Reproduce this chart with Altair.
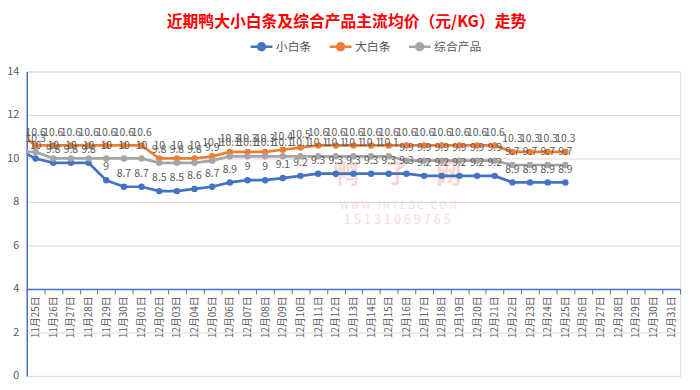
import json
import altair as alt
import pandas as pd

# ---------------- data ----------------
dates = [
    "11月25日", "11月26日", "11月27日", "11月28日", "11月29日", "11月30日",
    "12月01日", "12月02日", "12月03日", "12月04日", "12月05日", "12月06日",
    "12月07日", "12月08日", "12月09日", "12月10日", "12月11日", "12月12日",
    "12月13日", "12月14日", "12月15日", "12月16日", "12月17日", "12月18日",
    "12月19日", "12月20日", "12月21日", "12月22日", "12月23日", "12月24日",
    "12月25日", "12月26日", "12月27日", "12月28日", "12月29日", "12月30日",
    "12月31日",
]
series_names = ["小白条", "大白条", "综合产品"]
series_colors = ["#4472C4", "#ED7D31", "#A5A5A5"]

small_white = [10, 9.8, 9.8, 9.8, 9, 8.7, 8.7, 8.5, 8.5, 8.6, 8.7, 8.9, 9, 9,
               9.1, 9.2, 9.3, 9.3, 9.3, 9.3, 9.3, 9.3, 9.2, 9.2, 9.2, 9.2, 9.2,
               8.9, 8.9, 8.9, 8.9]
big_white = [10.6, 10.6, 10.6, 10.6, 10.6, 10.6, 10.6, 10, 10, 10, 10.1, 10.3,
             10.3, 10.3, 10.4, 10.5, 10.6, 10.6, 10.6, 10.6, 10.6, 10.6, 10.6,
             10.6, 10.6, 10.6, 10.6, 10.3, 10.3, 10.3, 10.3]
combined = [10.3, 10, 10, 10, 10, 10, 10, 9.8, 9.8, 9.8, 9.9, 10.1, 10.1, 10.1,
            10.1, 10.1, 10.1, 10.1, 10.1, 10.1, 10.1, 9.9, 9.9, 9.9, 9.9, 9.9,
            9.9, 9.7, 9.7, 9.7, 9.7]
# the day before the first category (only its connecting stub is visible)
prev_values = [10.4, 11.2, 10.3]

watermark_lines = ["鸭　子　网", "W W W . I N T E D C . C O M", "1 5 1 3 1 0 6 9 7 6 5"]

# ---------------- table ----------------
rows = []
for name, vals, prev in zip(series_names, [small_white, big_white, combined], prev_values):
    rows.append({"idx": -1, "series": name, "value": prev, "label": ""})
    for i, v in enumerate(vals):
        rows.append({"idx": i, "series": name, "value": v, "label": f"{v:g}"})
df = pd.DataFrame(rows)

W, H = 661, 308
step = W / len(dates)
FONT = "Noto Sans CJK SC"

label_expr = json.dumps(dates, ensure_ascii=False) + "[datum.value + 0.5] || ''"

x_enc = alt.X(
    "idx:Q",
    scale=alt.Scale(domain=[-0.5, len(dates) - 0.5], nice=False, zero=False),
    axis=alt.Axis(
        values=[i - 0.5 for i in range(len(dates) + 1)],
        labelExpr=label_expr,
        orient="bottom",
        offset=-(4 / 14) * H,
        domainColor="#4472C4",
        domainWidth=1.5,
        tickColor="#4472C4",
        tickSize=5,
        tickWidth=1,
        labelAngle=270,
        labelOffset=step / 2,
        labelFontSize=10,
        labelColor="#595959",
        labelFont=FONT,
        labelPadding=2,
        labelOverlap=False,
        labelFlush=False,
        labelBound=False,
        grid=False,
        title=None,
    ),
)
y_enc = alt.Y(
    "value:Q",
    scale=alt.Scale(domain=[0, 14], nice=False, zero=True),
    axis=alt.Axis(
        values=[0, 2, 4, 6, 8, 10, 12, 14],
        grid=True,
        gridColor="#D9D9D9",
        gridWidth=1,
        domainColor="#4472C4",
        domainWidth=1.5,
        ticks=False,
        labelPadding=8,
        labelFontSize=11,
        labelColor="#595959",
        labelFont=FONT,
        title=None,
    ),
)
color_enc = alt.Color(
    "series:N",
    scale=alt.Scale(domain=series_names, range=series_colors),
    sort=series_names,
    legend=alt.Legend(
        orient="none",
        legendX=225,
        legendY=-38,
        direction="horizontal",
        title=None,
        symbolType="M-1,0L1,0M-0.32,0a0.32,0.32 0 1,0 0.64,0a0.32,0.32 0 1,0 -0.64,0",
        symbolSize=484,
        symbolStrokeWidth=2.5,
        labelFontSize=12,
        labelColor="#595959",
        labelFont=FONT,
        columnPadding=12,
        labelOffset=2,
    ),
)

base = alt.Chart(df)

wm_df = pd.DataFrame({"t": watermark_lines})
wm1 = alt.Chart(wm_df).transform_filter(alt.datum.t == watermark_lines[0]).mark_text(
    fontSize=26, font=FONT, fontWeight="bold", color="#F4A898", opacity=0.45
).encode(text="t:N", x=alt.value(375), y=alt.value(105))
wm2 = alt.Chart(wm_df).transform_filter(alt.datum.t == watermark_lines[1]).mark_text(
    fontSize=10, font=FONT, color="#F4A898", opacity=0.4
).encode(text="t:N", x=alt.value(376), y=alt.value(136))
wm3 = alt.Chart(wm_df).transform_filter(alt.datum.t == watermark_lines[2]).mark_text(
    fontSize=13, font=FONT, color="#F4A898", opacity=0.4
).encode(text="t:N", x=alt.value(375), y=alt.value(150))

lines = base.mark_line(strokeWidth=2.75, clip=True).encode(
    x=x_enc, y=y_enc, color=color_enc, order="idx:Q"
)
points = base.transform_filter(alt.datum.idx >= 0).mark_point(
    filled=True, size=42, opacity=1
).encode(x=x_enc, y=y_enc, color=color_enc)
labels = base.transform_filter(alt.datum.idx >= 0).mark_text(
    dy=-13, fontSize=10.5, font=FONT, color="#595959"
).encode(x=x_enc, y=y_enc, text="label:N")

chart = (
    alt.layer(wm1, wm2, wm3, lines, points, labels)
    .properties(
        width=W,
        height=H,
        autosize=alt.AutoSizeParams(type="none"),
        padding={"left": 19, "top": 62, "right": 12, "bottom": 12},
        title=alt.Title(
            "近期鸭大小白条及综合产品主流均价（元/KG）走势",
            fontSize=16,
            font=FONT,
            fontWeight="bold",
            color="#FF0000",
            anchor="middle",
            offset=4,
            dx=-7,
        ),
    )
    .configure_view(stroke="transparent")
    .configure(background="white")
)

chart.save("out.html", embed_options={"renderer": "svg", "actions": False})
